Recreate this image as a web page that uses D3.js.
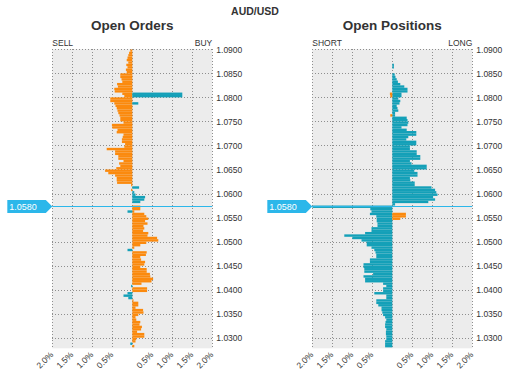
<!DOCTYPE html>
<html>
<head>
<meta charset="utf-8">
<script src="https://cdn.jsdelivr.net/npm/d3@7"></script>
<style>
body { margin: 0; background: #fff; }
svg { display: block; font-family: "Liberation Sans", Arial, sans-serif; }
.grid line { stroke: #8e8e8e; stroke-dasharray: 1,2; shape-rendering: crispEdges; }
.grid .domain, .axis .domain { display: none; }
.axis text { font-size: 8.5px; fill: #333; }
</style>
</head>
<body>
<svg width="510" height="370"></svg>
<script>
// lower edge of each 0.0005 price bin, top to bottom
var levels = [
  1.0895, 1.0890, 1.0885, 1.0880, 1.0875, 1.0870, 1.0865, 1.0860, 1.0855, 1.0850,
  1.0845, 1.0840, 1.0835, 1.0830, 1.0825, 1.0820, 1.0815, 1.0810, 1.0805, 1.0800,
  1.0795, 1.0790, 1.0785, 1.0780, 1.0775, 1.0770, 1.0765, 1.0760, 1.0755, 1.0750,
  1.0745, 1.0740, 1.0735, 1.0730, 1.0725, 1.0720, 1.0715, 1.0710, 1.0705, 1.0700,
  1.0695, 1.0690, 1.0685, 1.0680, 1.0675, 1.0670, 1.0665, 1.0660, 1.0655, 1.0650,
  1.0645, 1.0640, 1.0635, 1.0630, 1.0625, 1.0620, 1.0615, 1.0610, 1.0605, 1.0600,
  1.0595, 1.0590, 1.0585, 1.0580, 1.0575, 1.0570, 1.0565, 1.0560, 1.0555, 1.0550,
  1.0545, 1.0540, 1.0535, 1.0530, 1.0525, 1.0520, 1.0515, 1.0510, 1.0505, 1.0500,
  1.0495, 1.0490, 1.0485, 1.0480, 1.0475, 1.0470, 1.0465, 1.0460, 1.0455, 1.0450,
  1.0445, 1.0440, 1.0435, 1.0430, 1.0425, 1.0420, 1.0415, 1.0410, 1.0405, 1.0400,
  1.0395, 1.0390, 1.0385, 1.0380, 1.0375, 1.0370, 1.0365, 1.0360, 1.0355, 1.0350,
  1.0345, 1.0340, 1.0335, 1.0330, 1.0325, 1.0320, 1.0315, 1.0310, 1.0305, 1.0300,
  1.0295, 1.0290, 1.0285, 1.0280
];

// percent values, negative = left side (sell / short)
var ordersOrange = [
  -0.05, -0.08, -0.1, -0.12, -0.14, -0.1, -0.15, -0.12, -0.16, -0.14,
  -0.3, -0.3, -0.27, -0.25, -0.38, -0.36, -0.45, -0.44, -0.25, -0.2,
  -0.55, -0.55, -0.45, -0.42, -0.39, -0.37, -0.35, -0.32, -0.3, -0.3,
  -0.22, -0.51, -0.5, -0.37, -0.39, -0.22, -0.24, -0.26, -0.26, -0.18,
  -0.2, -0.64, -0.43, -0.43, -0.35, -0.35, -0.22, -0.33, -0.3, -0.4,
  -0.68, -0.6, -0.43, -0.39, -0.39, -0.38, -0.03, 0, -0.03, 0,
  0, 0, 0, 0, 0, 0.2, 0.2, 0.05, 0.3, 0.35,
  0.4, 0.32, 0.38, 0.28, 0.3, 0.27, 0.4, 0.38, 0.62, 0.65,
  0.35, 0.2, 0.05, 0, 0.36, 0.34, 0.2, 0.22, 0.32, 0.3,
  0.2, 0.36, 0.36, 0.44, 0.45, 0.52, 0.48, 0.23, 0, 0.37,
  0.37, 0, 0, 0, 0.03, 0.15, 0.15, 0.08, 0.27, 0.28,
  0.15, 0.08, 0.1, 0.2, 0.18, 0.24, 0.22, 0.12, 0.3, 0.3,
  0.1, 0.08, 0, 0.05
];
var ordersTeal = [
  0, 0, 0, 0, 0, 0, 0, 0, 0, 0,
  0, 0, 0, 0, 0, 0, 0, 0, 1.25, 1.25,
  0, 0, 0.15, 0, 0, 0, 0, 0, 0, 0,
  0, 0, 0, 0, 0, 0, 0, 0, 0, 0,
  0, 0, 0, 0, 0, 0, 0, 0, 0, 0,
  0, 0, 0, 0, 0, 0, 0, 0.17, 0, 0.05,
  0.08, 0.32, 0.3, 0.2, 0, 0, 0, -0.12, 0, 0,
  0, 0, 0, 0, 0, 0, 0, 0, 0, 0,
  0, 0, 0, -0.12, 0, 0, 0, 0, 0, 0,
  0, 0, 0, 0, 0, 0, 0, 0, -0.03, 0,
  0, -0.12, -0.22, -0.1, 0, 0, 0, 0, 0, 0,
  0, 0, 0, 0, 0, 0, 0, 0, 0, 0,
  0, 0, -0.05, 0
];
var positionsTeal = [
  0, 0, 0, 0, 0, 0, 0.04, 0.04, 0, 0,
  0.06, 0.08, 0.11, 0.14, 0.2, 0.3, 0.38, 0.38, 0.23, 0.23,
  0.15, 0.2, 0.18, 0.11, 0.13, 0.15, 0.07, 0.07, 0.36, 0.38,
  0.4, 0.38, 0.23, 0.36, 0.6, 0.6, 0.4, 0.35, 0.6, 0.6,
  0.44, 0.44, 0.61, 0.61, 0.7, 0.7, 0.44, 0.48, 0.86, 0.86,
  0.55, 0.63, 0.63, 0.44, 0.45, 0.56, 0.56, 0.98, 1.07, 1.1,
  1.13, 1.02, 1.07, 0.9, 0.07, -2.0, -0.55, -0.52, -0.56, -0.4,
  -0.39, -0.39, -0.37, -0.37, -0.52, -0.52, -0.68, -1.2, -1.0, -0.77,
  -0.64, -0.64, -0.52, -0.45, -0.42, -0.4, -0.4, -0.56, -0.56, -0.72,
  -0.72, -0.7, -0.7, -0.48, -0.72, -0.68, -0.68, -0.23, -0.15, -0.23,
  -0.23, -0.45, -0.15, -0.15, -0.4, -0.4, -0.35, -0.27, -0.27, -0.25,
  -0.23, -0.18, -0.15, -0.17, -0.18, -0.18, -0.15, -0.16, -0.16, -0.15,
  -0.15, -0.18, -0.18, -0.18
];
var positionsOrange = [
  0, 0, 0, 0, 0, 0, 0, 0, 0, 0,
  0, 0, 0, 0, 0, 0, 0, 0, -0.06, -0.05,
  0, 0, 0, 0, 0, 0, 0, -0.05, 0, 0,
  0, 0, 0, 0, 0, 0, 0, 0, 0, 0,
  0, 0, 0, 0, 0, 0, 0, 0, 0, 0,
  0, 0, 0, 0, 0, 0, 0, 0, 0, 0,
  0, 0, 0, 0, 0, 0, 0, 0, 0.34, 0.34,
  0.2, 0, 0, 0, 0, 0, 0, 0, 0, 0,
  0, 0, 0, 0, 0, 0, 0, 0, 0, 0,
  0, 0, 0, 0, 0, 0, 0, 0, 0, 0,
  0, 0, 0, 0, 0, 0, 0, 0, 0, 0,
  0, 0, 0, 0, 0, 0, 0, 0, 0, 0,
  0, 0, 0, 0
];

var priceTicks = [1.09, 1.085, 1.08, 1.075, 1.07, 1.065, 1.06, 1.055, 1.05, 1.045, 1.04, 1.035, 1.03];
var pctTicks = [-2, -1.5, -1, -0.5, 0.5, 1, 1.5, 2];
var gridTicks = [-2, -1.5, -1, -0.5, 0, 0.5, 1, 1.5, 2];
var currentPrice = 1.0575, currentLabel = "1.0580";
var binSize = 0.0005;

var orange = "#fb8a0e", teal = "#14a0b8", priceBlue = "#2cb7ea";

var svg = d3.select("svg"),
    width = 160,
    height = 299;

var y = d3.scaleLinear()
    .domain([1.0278, 1.0900])
    .range([height, 0]);

svg.append("text")
    .attr("x", 255)
    .attr("y", 15)
    .attr("text-anchor", "middle")
    .style("font-size", "10.5px")
    .style("font-weight", "bold")
    .attr("fill", "#333")
    .text("AUD/USD");

svg.append("clipPath")
    .attr("id", "plotclip")
  .append("rect")
    .attr("width", width)
    .attr("height", height);

function drawPanel(left, title, leftName, rightName, series) {
  var g = svg.append("g").attr("transform", "translate(" + left + ",49.3)");

  var x = d3.scaleLinear()
      .domain([-2, 2])
      .range([0, width]);

  g.append("rect")
      .attr("width", width)
      .attr("height", height)
      .attr("fill", "#ececec");

  g.append("g")
      .attr("class", "grid")
      .call(d3.axisBottom(x).tickValues(gridTicks).tickSize(height).tickFormat(""));

  g.append("g")
      .attr("class", "grid")
      .call(d3.axisLeft(y).tickValues(priceTicks).tickSize(-width).tickFormat(""));

  var bars = g.append("g").attr("clip-path", "url(#plotclip)");
  series.forEach(function(s) {
    bars.append("g")
        .attr("fill", s.color)
      .selectAll("rect")
      .data(levels.map(function(p, i) { return {price: p, value: s.values[i]}; })
                  .filter(function(d) { return d.value !== 0; }))
      .enter().append("rect")
        .attr("x", function(d) { return x(Math.min(0, d.value)); })
        .attr("width", function(d) { return Math.abs(x(d.value) - x(0)); })
        .attr("y", function(d) { return y(d.price + binSize); })
        .attr("height", function(d) { return y(d.price) - y(d.price + binSize); });
  });

  // current price line and callout
  var py = Math.round(y(currentPrice) + 49.3) - 49.3 + 0.5;
  g.append("line")
      .attr("x1", 0)
      .attr("x2", width)
      .attr("y1", py)
      .attr("y2", py)
      .attr("stroke", priceBlue)
      .attr("stroke-width", 1);

  g.append("path")
      .attr("d", "M-45," + (py - 6.5) + "H-6.5L0," + py + "L-6.5," + (py + 6.5) + "H-45Z")
      .attr("fill", priceBlue);

  g.append("text")
      .attr("x", -43)
      .attr("y", py + 3.3)
      .attr("fill", "#fff")
      .style("font-size", "9px")
      .text(currentLabel);

  g.append("g")
      .attr("class", "axis")
      .attr("transform", "translate(" + width + ",0)")
      .call(d3.axisRight(y).tickValues(priceTicks).tickSize(0).tickPadding(4).tickFormat(d3.format(".4f")));

  g.append("g")
      .attr("class", "axis")
      .attr("transform", "translate(0," + height + ")")
      .call(d3.axisBottom(x).tickValues(pctTicks).tickSize(0)
          .tickFormat(function(d) { return d3.format(".1f")(Math.abs(d)) + "%"; }))
    .selectAll("text")
      .attr("x", 0)
      .attr("y", 0)
      .attr("dy", 0)
      .style("text-anchor", "end")
      .attr("transform", "translate(1,7) rotate(-45)");

  g.append("text")
      .attr("x", width / 2)
      .attr("y", -19.5)
      .attr("text-anchor", "middle")
      .style("font-size", "13.5px")
      .style("font-weight", "bold")
      .attr("fill", "#333")
      .text(title);

  g.append("text")
      .attr("x", 0)
      .attr("y", -3.5)
      .style("font-size", "8.5px")
      .attr("fill", "#333")
      .text(leftName);

  g.append("text")
      .attr("x", width)
      .attr("y", -3.5)
      .attr("text-anchor", "end")
      .style("font-size", "8.5px")
      .attr("fill", "#333")
      .text(rightName);
}

drawPanel(52.3, "Open Orders", "SELL", "BUY",
  [{values: ordersOrange, color: orange}, {values: ordersTeal, color: teal}]);
drawPanel(312.3, "Open Positions", "SHORT", "LONG",
  [{values: positionsTeal, color: teal}, {values: positionsOrange, color: orange}]);
</script>
</body>
</html>
